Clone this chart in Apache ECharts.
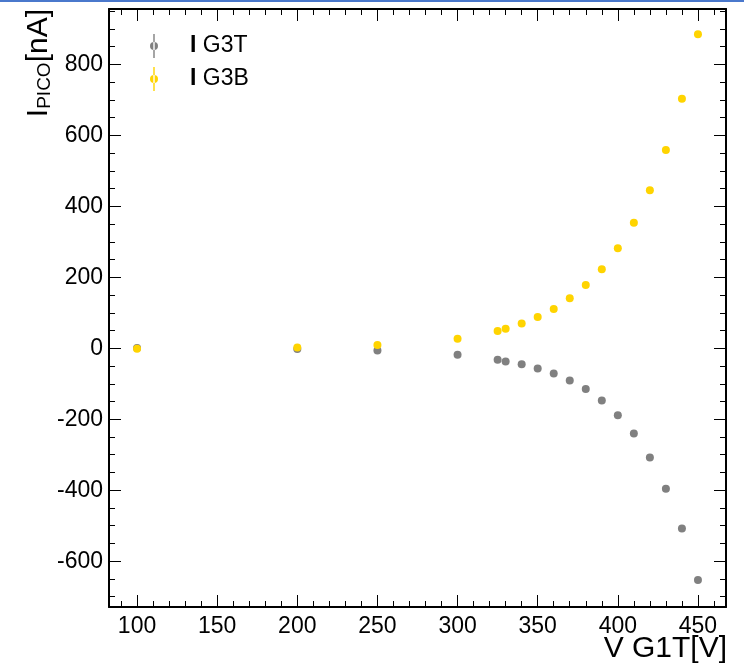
<!DOCTYPE html>
<html>
<head>
<meta charset="utf-8">
<script src="https://cdn.jsdelivr.net/npm/echarts@6/dist/echarts.min.js"></script>
<style>
  html, body { margin: 0; padding: 0; background: #ffffff; }
  #chart { width: 744px; height: 670px; }
</style>
</head>
<body>
<div id="chart"></div>
<script>
// Gate voltage scan: picoammeter current on the two G3 electrodes
const volts = [100, 200, 250, 300, 325, 330, 340, 350, 360, 370, 380, 390, 400, 410, 420, 430, 440, 450];
const currentG3T = [1, -2, -6, -18, -32, -37, -45, -57, -71, -91, -115, -147, -189, -240, -308, -396, -508, -653];
const currentG3B = [-1, 2, 9, 27, 49, 55, 70, 88, 111, 141, 178, 223, 282, 354, 445, 559, 703, 885];

const seriesNames = ['G3T', 'G3B'];
const seriesColors = ['#808080', '#ffd400'];

// Axis ranges and tick positions
const xRange = [82.5, 467.5];
const yRange = [-729, 956];
const xMajorTicks = [100, 150, 200, 250, 300, 350, 400, 450];
const xMinorTicks = [90, 110, 120, 130, 140, 160, 170, 180, 190, 210, 220, 230, 240, 260, 270, 280, 290, 310, 320, 330, 340, 360, 370, 380, 390, 410, 420, 430, 440, 460];
const yMajorTicks = [-600, -400, -200, 0, 200, 400, 600, 800];
const yMinorTicks = [-700, -650, -550, -500, -450, -350, -300, -250, -150, -100, -50, 50, 100, 150, 250, 300, 350, 450, 500, 550, 650, 700, 750, 850, 900, 950];

const xTitle = 'V G1T[V]';

const FONT = '"Liberation Sans", Arial, Helvetica, sans-serif';
const black = '#000000';

function pairs(xs, ys) { return xs.map((x, i) => [x, ys[i]]); }

function makeAxis(kind, position, ticks, len, withLine, withLabels) {
  const isX = kind === 'x';
  const rng = isX ? xRange : yRange;
  return {
    type: 'value',
    position: position,
    min: rng[0],
    max: rng[1],
    axisLine: { show: withLine, onZero: false, lineStyle: { color: black, width: 2 } },
    axisTick: { show: true, inside: true, length: len, customValues: ticks, lineStyle: { color: black, width: 1 } },
    axisLabel: withLabels ? {
      show: true, customValues: ticks, color: black, fontFamily: FONT, fontSize: 23,
      margin: isX ? 8 : 6
    } : { show: false },
    splitLine: { show: false },
    minorTick: { show: false }
  };
}

const chart = echarts.init(document.getElementById('chart'), null, { renderer: 'canvas' });

const option = {
  backgroundColor: '#ffffff',
  animation: false,
  grid: { left: 109, top: 9, width: 617, height: 598, containLabel: false },
  xAxis: [
    makeAxis('x', 'bottom', xMajorTicks, 12, true, true),
    makeAxis('x', 'bottom', xMinorTicks, 6, false, false),
    makeAxis('x', 'top', xMajorTicks, 12, true, false),
    makeAxis('x', 'top', xMinorTicks, 6, false, false)
  ],
  yAxis: [
    makeAxis('y', 'left', yMajorTicks, 12, true, true),
    makeAxis('y', 'left', yMinorTicks, 6, false, false),
    makeAxis('y', 'right', yMajorTicks, 12, true, false),
    makeAxis('y', 'right', yMinorTicks, 6, false, false)
  ],
  legend: {
    orient: 'vertical',
    left: 145,
    top: 29,
    itemWidth: 10,
    itemHeight: 24,
    itemGap: 9,
    icon: 'path://M4.3,0 h1.4 v24 h-1.4 z M1,12 a4,4 0 1,0 8,0 a4,4 0 1,0 -8,0 z',
    data: seriesNames,
    formatter: name => '{i|I}{t| ' + name + '}',
    textStyle: {
      color: black,
      fontFamily: FONT,
      fontSize: 23,
      rich: {
        i: { fontFamily: FONT, fontSize: 23, fontWeight: 'bold', color: black, padding: [0, 0, 0, 26] },
        t: { fontFamily: FONT, fontSize: 23, color: black }
      }
    }
  },
  series: [
    {
      name: seriesNames[0],
      type: 'scatter',
      xAxisIndex: 0,
      yAxisIndex: 0,
      symbol: 'circle',
      symbolSize: 8,
      itemStyle: { color: seriesColors[0], opacity: 1 },
      data: pairs(volts, currentG3T),
      z: 3
    },
    {
      name: seriesNames[1],
      type: 'scatter',
      xAxisIndex: 0,
      yAxisIndex: 0,
      symbol: 'circle',
      symbolSize: 8,
      itemStyle: { color: seriesColors[1], opacity: 1 },
      data: pairs(volts, currentG3B),
      z: 4
    }
  ],
  graphic: [
    {
      type: 'rect',
      shape: { x: 0, y: 0, width: 744, height: 2 },
      style: { fill: '#4a78cc' },
      silent: true
    },
    {
      type: 'text',
      right: 17,
      top: 634,
      style: { text: xTitle, fill: black, font: '30px ' + FONT }
    },
    {
      type: 'text',
      x: 38,
      y: 9,
      rotation: Math.PI / 2,
      style: {
        text: '{m|I}{s|PICO}{m|[nA]}',
        align: 'right',
        verticalAlign: 'middle',
        fill: black,
        rich: {
          m: { fontFamily: FONT, fontSize: 30, fill: black, lineHeight: 32, verticalAlign: 'bottom' },
          s: { fontFamily: FONT, fontSize: 19, fill: black, lineHeight: 6, verticalAlign: 'bottom' }
        }
      }
    }
  ]
};

chart.setOption(option);
</script>
</body>
</html>
